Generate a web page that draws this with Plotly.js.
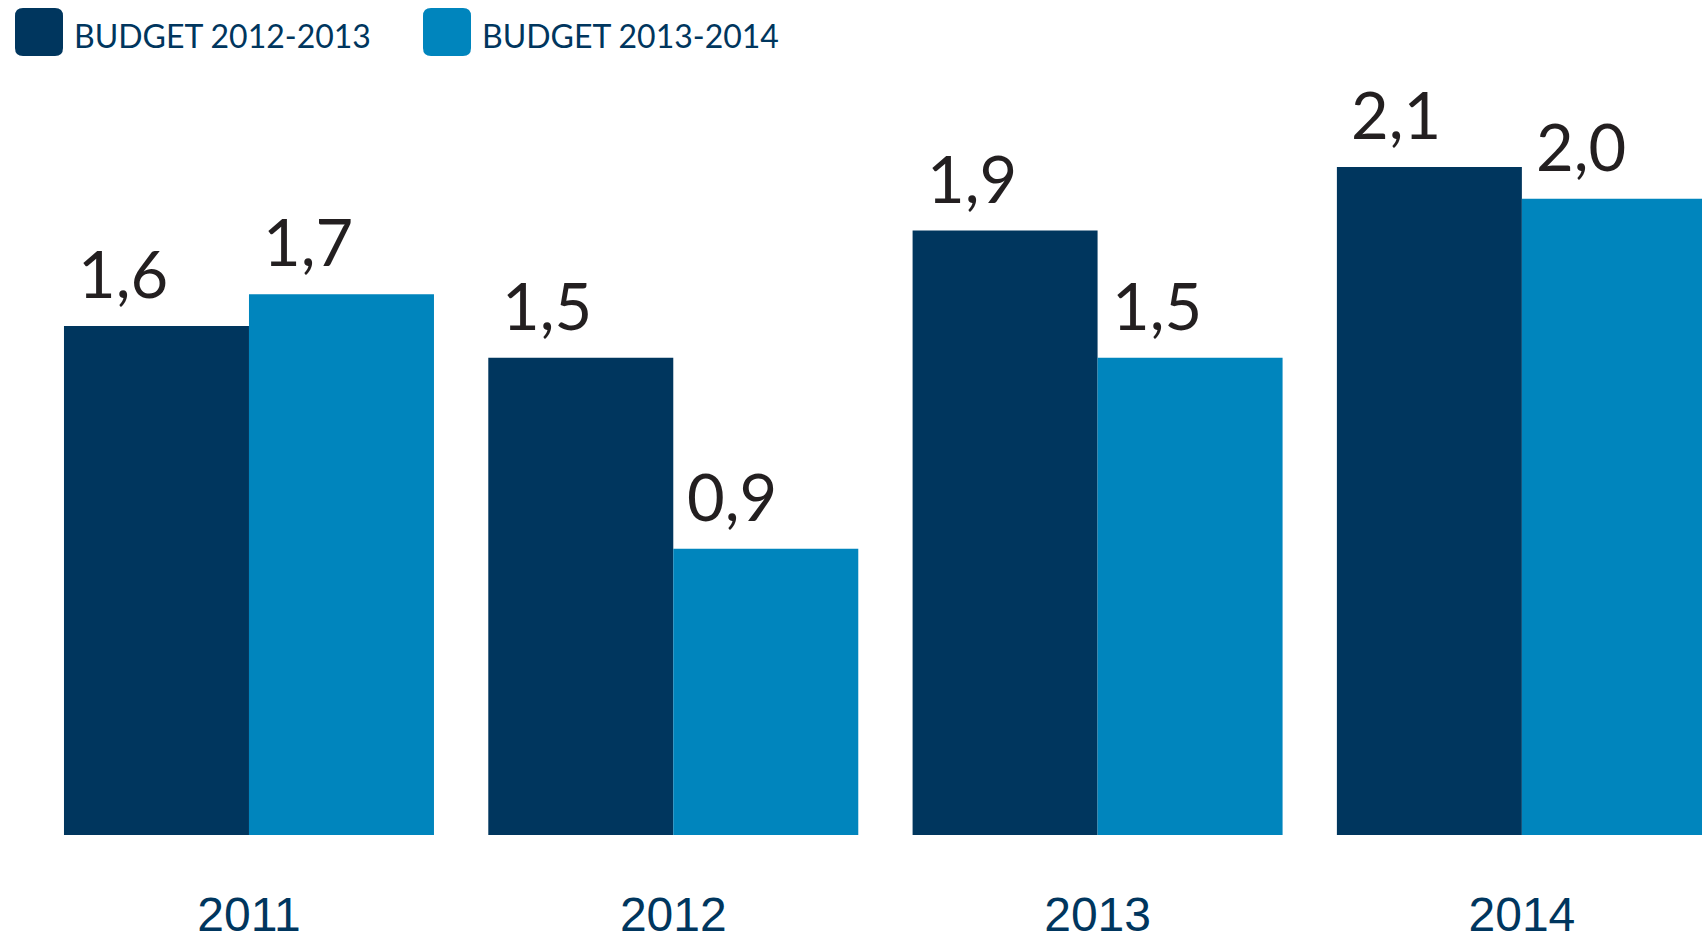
<!DOCTYPE html>
<html>
<head>
<meta charset="utf-8">
<script src="https://cdn.plot.ly/plotly-3.0.1.min.js"></script>
<style>html,body{margin:0;padding:0;background:#fff;}#chart{width:1702px;height:943px;}</style>
</head>
<body>
<div id="chart"></div>
<script>
const categories = ['2011', '2012', '2013', '2014'];
const seriesNames = ['BUDGET 2012-2013', 'BUDGET 2013-2014'];
const budget2012_2013 = [1.6, 1.5, 1.9, 2.1];
const budget2013_2014 = [1.7, 0.9, 1.5, 2.0];
const seriesColors = ['#00365E', '#0085BD'];

const W = 1702, H = 943, B = 108;
const PH = H - B;
const barW = 0.436;

const traces = [budget2012_2013, budget2013_2014].map((vals, k) => ({
  type: 'bar',
  x: categories,
  y: vals,
  name: seriesNames[k],
  marker: {color: seriesColors[k], line: {width: 0}},
  hoverinfo: 'none',
  showlegend: false
}));

const fmt = v => v.toFixed(1).replace('.', ',');
const annotations = [];
[budget2012_2013, budget2013_2014].forEach((vals, k) => {
  vals.forEach((v, i) => {
    annotations.push({
      x: i - barW + k * barW, y: v, xref: 'x', yref: 'y',
      text: fmt(v), showarrow: false,
      xanchor: 'left', yanchor: 'bottom', xshift: 12, yshift: 12,
      font: {family: 'Lato, sans-serif', size: 65, color: '#231F20'}
    });
  });
});

// legend
const shapes = [];
const legendX = [15, 423];
const sq = 48, rad = 8, legTop = 8;
seriesNames.forEach((nm, k) => {
  const x0 = legendX[k], x1 = x0 + sq, y0 = legTop, y1 = legTop + sq;
  const px = p => p / W, py = p => 1 - p / PH;
  const path = `M${px(x0 + rad)},${py(y0)} L${px(x1 - rad)},${py(y0)} Q${px(x1)},${py(y0)} ${px(x1)},${py(y0 + rad)} ` +
    `L${px(x1)},${py(y1 - rad)} Q${px(x1)},${py(y1)} ${px(x1 - rad)},${py(y1)} L${px(x0 + rad)},${py(y1)} ` +
    `Q${px(x0)},${py(y1)} ${px(x0)},${py(y1 - rad)} L${px(x0)},${py(y0 + rad)} Q${px(x0)},${py(y0)} ${px(x0 + rad)},${py(y0)} Z`;
  shapes.push({type: 'path', xref: 'paper', yref: 'paper', path: path,
    fillcolor: seriesColors[k], line: {width: 0}, layer: 'above'});
  annotations.push({
    xref: 'paper', yref: 'paper', x: (x1 + 9) / W, y: 1 - 35.5 / PH,
    xanchor: 'left', yanchor: 'middle', showarrow: false, text: nm,
    font: {family: 'Lato, sans-serif', size: 32, color: '#00365E'}
  });
});

const layout = {
  width: W, height: H,
  margin: {l: 0, r: 0, t: 0, b: B, pad: 0},
  paper_bgcolor: '#fff', plot_bgcolor: '#fff',
  barmode: 'group', bargap: 0.128, bargroupgap: 0,
  showlegend: false,
  xaxis: {
    type: 'category', range: [-0.5868, 3.4245],
    showgrid: false, zeroline: false, showline: false, ticks: '',
    ticklabelstandoff: 47,
    tickfont: {family: '"Liberation Sans", Arial, sans-serif', size: 48, color: '#00365E'},
    fixedrange: true
  },
  yaxis: {
    range: [0, 2.625], visible: false, showgrid: false, zeroline: false, fixedrange: true
  },
  annotations: annotations,
  shapes: shapes
};

Plotly.newPlot('chart', traces, layout, {displayModeBar: false, staticPlot: true});
</script>
</body>
</html>
